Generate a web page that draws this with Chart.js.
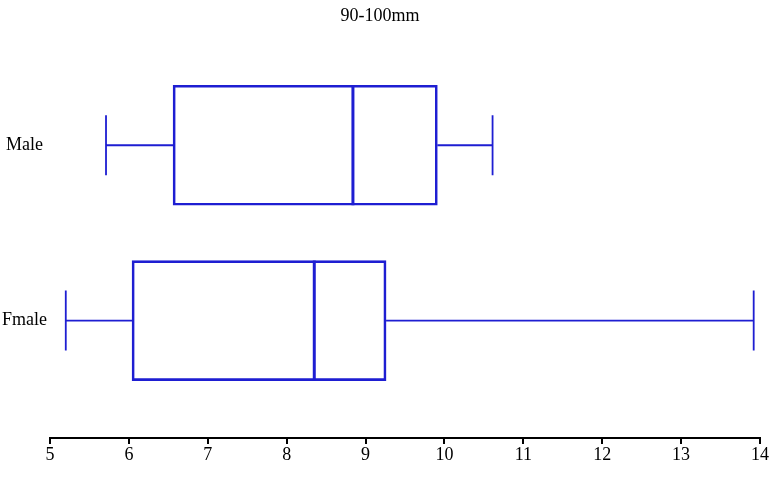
<!DOCTYPE html>
<html>
<head>
<meta charset="utf-8">
<script src="https://cdn.jsdelivr.net/npm/chart.js@4/dist/chart.umd.min.js"></script>
<style>
  body { margin: 0; background: #fff; }
</style>
</head>
<body>
<canvas id="chart" width="772" height="488"></canvas>
<script>
// box plot values
const categories = ['Male', 'Fmale'];
const mins = [5.71, 5.20];
const q1s = [6.56, 6.04];
const medians = [8.84, 8.35];
const q3s = [9.91, 9.26];
const maxs = [10.61, 13.92];
const xTicks = [5, 6, 7, 8, 9, 10, 11, 12, 13, 14];

const blue = 'rgb(30,30,210)';
const serif = "'Liberation Serif', 'Times New Roman', serif";

// whiskers, caps and median drawn on top of the floating bars
const boxPlot = {
  id: 'boxPlot',
  afterDatasetsDraw(chart) {
    const ctx = chart.ctx;
    const x = chart.scales.x;
    const bars = chart.getDatasetMeta(0).data;
    ctx.save();
    ctx.strokeStyle = blue;
    bars.forEach((bar, i) => {
      const yc = bar.y;
      const half = bar.height / 2;
      const cap = bar.height / 4;
      const pMin = x.getPixelForValue(mins[i]);
      const pQ1 = x.getPixelForValue(q1s[i]);
      const pMed = x.getPixelForValue(medians[i]);
      const pQ3 = x.getPixelForValue(q3s[i]);
      const pMax = x.getPixelForValue(maxs[i]);

      ctx.lineWidth = 1.8;
      ctx.beginPath();
      ctx.moveTo(pMin, yc); ctx.lineTo(pQ1, yc);
      ctx.moveTo(pQ3, yc); ctx.lineTo(pMax, yc);
      ctx.moveTo(pMin, yc - cap); ctx.lineTo(pMin, yc + cap);
      ctx.moveTo(pMax, yc - cap); ctx.lineTo(pMax, yc + cap);
      ctx.stroke();

      ctx.lineWidth = 3;
      ctx.beginPath();
      ctx.moveTo(pMed, yc - half); ctx.lineTo(pMed, yc + half);
      ctx.stroke();
    });
    ctx.restore();
  }
};

new Chart(document.getElementById('chart'), {
  type: 'bar',
  data: {
    datasets: [{
      data: categories.map((c, i) => ({ x: [q1s[i], q3s[i]], y: i })),
      backgroundColor: 'rgba(255,255,255,0)',
      borderColor: blue,
      borderWidth: 2,
      borderSkipped: false,
      barThickness: 120
    }]
  },
  options: {
    indexAxis: 'y',
    responsive: false,
    animation: false,
    layout: { padding: { right: 12 } },
    plugins: {
      legend: { display: false },
      tooltip: { enabled: false },
      title: {
        display: true,
        text: '90-100mm',
        color: '#000',
        font: { family: serif, size: 18, weight: 'normal' },
        padding: { top: 5, bottom: 31 }
      }
    },
    scales: {
      x: {
        type: 'linear',
        min: 5,
        max: 14,
        afterBuildTicks: s => { s.ticks = xTicks.map(v => ({ value: v })); },
        afterFit: s => { s.height = 50; },
        border: { display: true, color: '#000', width: 2 },
        grid: { drawOnChartArea: false, drawTicks: true, tickLength: 6, color: '#000', lineWidth: 2 },
        ticks: { color: '#000', padding: 0, maxRotation: 0, font: { family: serif, size: 18 } }
      },
      y: {
        type: 'linear',
        offset: false,
        reverse: true,
        min: -0.5,
        max: 1.67,
        afterBuildTicks: s => { s.ticks = categories.map((c, i) => ({ value: i })); },
        afterFit: s => { s.width = 50; },
        border: { display: false },
        grid: { display: false, drawTicks: false },
        ticks: {
          color: '#000',
          crossAlign: 'center',
          padding: 3,
          font: { family: serif, size: 18 },
          callback: v => categories[v]
        }
      }
    }
  },
  plugins: [boxPlot]
});
</script>
</body>
</html>
